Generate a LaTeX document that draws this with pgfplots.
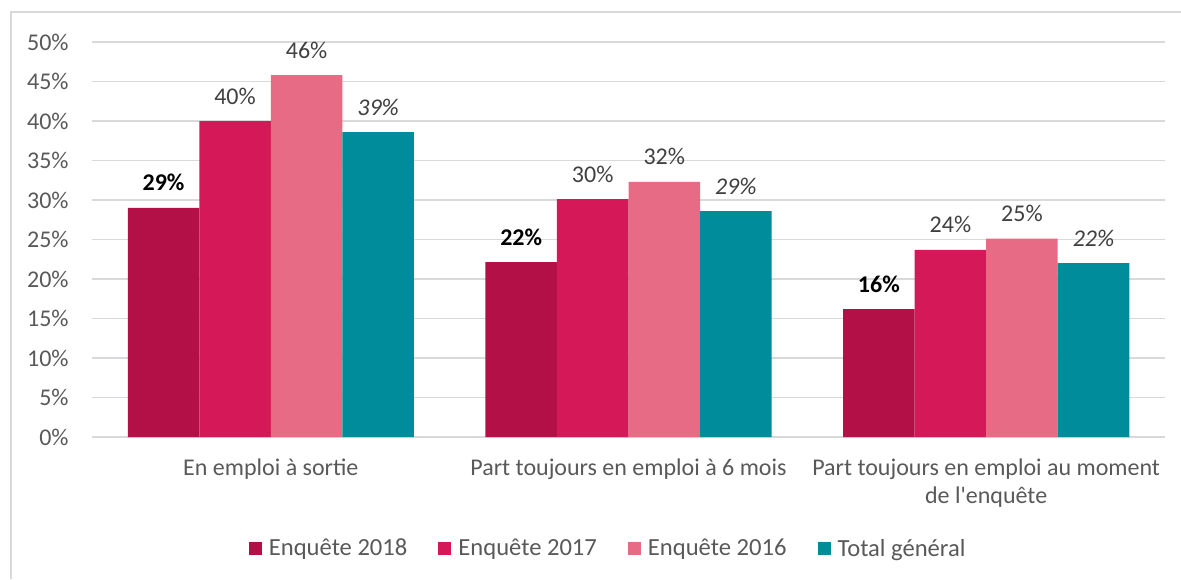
\documentclass[border=0pt]{standalone}
\usepackage{pgfplots}
\pgfplotsset{compat=1.18}
\usepackage{fontspec}
\setmainfont{Carlito}
\newfontfamily\plainq{Carlito}
\definecolor{c18}{HTML}{B31048}
\definecolor{c17}{HTML}{D51958}
\definecolor{c16}{HTML}{E76B84}
\definecolor{ctot}{HTML}{008C9A}
\definecolor{gridc}{HTML}{D9D9D9}
\definecolor{tickc}{HTML}{595959}
\definecolor{labc}{HTML}{404040}
\begin{document}
\begin{tikzpicture}
\useasboundingbox (0,0) rectangle (590.5pt,289.5pt);
\draw[gridc, line width=0.75pt] (5.5pt,0) -- (5.5pt,283.5pt) -- (590.5pt,283.5pt);
\begin{axis}[
  at={(46pt,71pt)}, anchor=south west,
  scale only axis, width=536.5pt, height=197.5pt,
  ybar=0pt, bar width=35.77pt,
  xmin=-0.5, xmax=2.5, ymin=0, ymax=50,
  xtick={0,1,2}, ytick={0,5,...,50},
  xticklabels={En emploi à sortie, Part toujours en emploi à 6 mois, {Part toujours en emploi au moment\\de l{\plainq'}enquête}},
  yticklabel={\pgfmathprintnumber{\tick}\%},
  /pgf/number format/assume math mode=true,
  major tick length=0pt,
  axis line style={draw=none},
  ymajorgrids, grid style={gridc, line width=0.75pt},
  xticklabel style={font=\fontsize{12}{14}\selectfont, text=tickc, align=center, anchor=north, inner sep=0pt, yshift=-10.5pt},
  yticklabel style={font=\fontsize{12}{14}\selectfont, text=tickc, anchor=east, inner sep=0pt, xshift=-11.5pt},
  nodes near coords={\pgfplotspointmeta},
  point meta=explicit symbolic,
  nodes near coords style={anchor=base, inner sep=0pt, yshift=8.5pt, font=\fontsize{12}{14}\selectfont, text=labc},
  legend style={draw=none, fill=none, at={(0.482,-0.2835)}, anchor=center, legend columns=4,
    font=\fontsize{12.3}{14}\selectfont, text=tickc,
    /tikz/every odd column/.append style={column sep=1.5pt},
    /tikz/every even column/.append style={column sep=13.5pt}},
  legend image code/.code={\fill[#1] (0pt,-3.25pt) rectangle (6.5pt,3.25pt);},
]
\addplot[fill=c18, draw=none, nodes near coords style={text=black, font=\fontsize{12}{14}\selectfont\bfseries}] coordinates {(0,29.0)[29\%] (1,22.15)[22\%] (2,16.2)[16\%]};
\addplot[fill=c17, draw=none] coordinates {(0,40.0)[40\%] (1,30.1)[30\%] (2,23.7)[24\%]};
\addplot[fill=c16, draw=none] coordinates {(0,45.8)[46\%] (1,32.3)[32\%] (2,25.1)[25\%]};
\addplot[fill=ctot, draw=none, nodes near coords style={font=\fontsize{12}{14}\selectfont\itshape}] coordinates {(0,38.6)[39\%] (1,28.6)[29\%] (2,22.0)[22\%]};
\legend{Enquête 2018, Enquête 2017, Enquête 2016, Total général}
\end{axis}
\end{tikzpicture}
\end{document}
